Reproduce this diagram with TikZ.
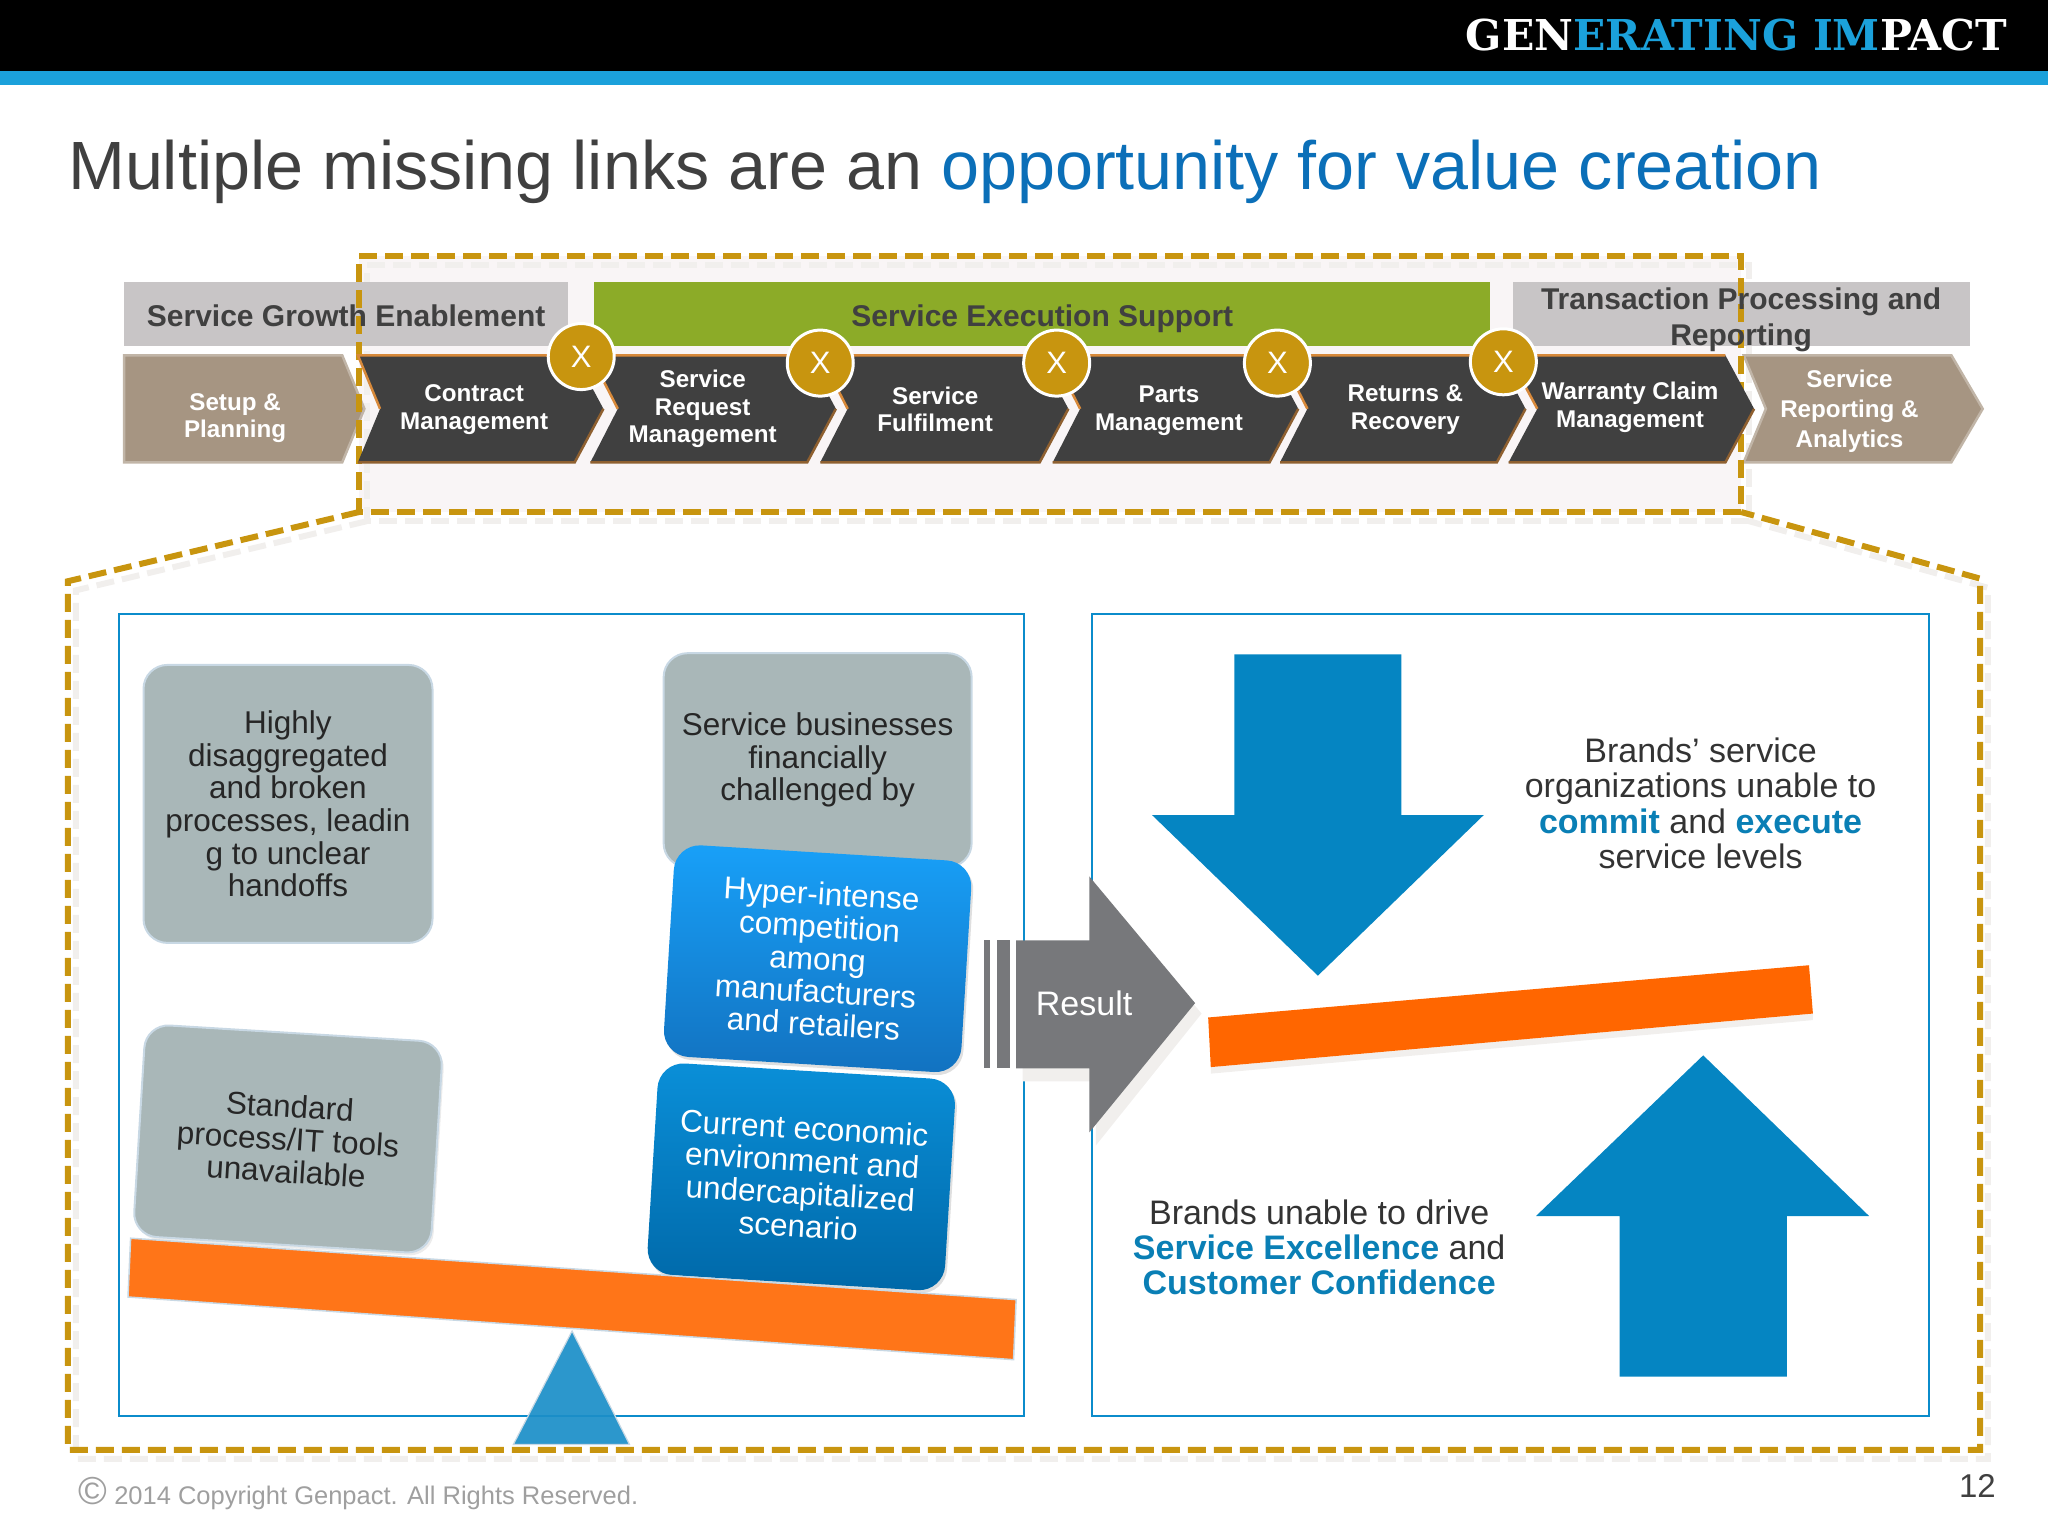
\documentclass[tikz,border=0pt]{standalone}
\usepackage{fontspec}
\setmainfont{Liberation Sans}
\newfontfamily\slabfont{DejaVu Serif}
\usetikzlibrary{shadows}
\definecolor{barblue}{HTML}{1BA1DB}
\definecolor{titlegrey}{HTML}{404040}
\definecolor{titleblue}{HTML}{0B6FB8}
\definecolor{dashgold}{HTML}{C8950F}
\definecolor{dashshade}{HTML}{F1EFED}
\definecolor{bandgrey}{HTML}{C8C5C6}
\definecolor{bandgreen}{HTML}{8CAB28}
\definecolor{chevtan}{HTML}{A69582}
\definecolor{chevdark}{HTML}{404040}
\definecolor{framblue}{HTML}{0B8CCB}
\definecolor{boxgrey}{HTML}{A9B7B8}
\definecolor{boxedge}{HTML}{C8D8E4}
\definecolor{hypertop}{HTML}{18A0F8}
\definecolor{hyperbot}{HTML}{1272C0}
\definecolor{econtop}{HTML}{0A8FD8}
\definecolor{econbot}{HTML}{0068A8}
\definecolor{beamorange}{HTML}{FF7518}
\definecolor{beamright}{HTML}{FF6600}
\definecolor{pivotblue}{HTML}{1C8FC8}
\definecolor{arrowblue}{HTML}{0585C2}
\definecolor{keyblue}{HTML}{0A7FB5}
\definecolor{resultgrey}{HTML}{77787B}
\definecolor{tintbox}{HTML}{F9F5F6}
\begin{document}
\begin{tikzpicture}[x=1.30612pt,y=-1.30612pt,line join=miter,
  dashline/.style={draw=dashgold,line width=6pt,dash pattern=on 18pt off 8pt},
  dashshadow/.style={draw=dashshade,line width=6pt,dash pattern=on 18pt off 8pt,shift={(6,7)}},
  band/.style={fill=bandgrey},
  bandlabel/.style={font=\fontsize{30}{36}\selectfont\bfseries,text=titlegrey,align=center,inner sep=0pt},
  tanchev/.style={fill=chevtan,draw=chevtan!70!white,line width=2.5pt},
  darkchev/.style={fill=chevdark},
  chevtop/.style={draw=orange!55!chevtan,line width=2.5pt},
  chevbot/.style={draw=brown!75!black,line width=2.5pt},
  chevlabel/.style={font=\fontsize{24.2}{27.5}\selectfont\bfseries,text=white,align=center,inner sep=0pt},
  missing/.style={circle,fill=dashgold,draw=white,line width=3pt,minimum size=66pt,inner sep=0pt,text=white,font=\fontsize{31}{31}\selectfont},
  frame/.style={draw=framblue,line width=2.4pt},
  greybox/.style={rounded corners=24pt,fill=boxgrey,draw=boxedge,line width=2pt,align=center,inner sep=0pt,text=black!85,font=\fontsize{31.5}{32.6}\selectfont},
  bluebox/.style={rounded corners=26pt,align=center,inner sep=0pt,text=white,font=\fontsize{31.5}{32.6}\selectfont,
    minimum width=298pt,minimum height=212pt,drop shadow={shadow xshift=2pt,shadow yshift=-3pt,opacity=.25}},
  keytext/.style={font=\fontsize{34}{35.3}\selectfont,text=black!80,align=center,inner sep=0pt},
  bigarrow/.style={fill=arrowblue},
]
\useasboundingbox (0,0) rectangle (1568,1176);
  % Header
  \fill [black] (0,0) rectangle (1568,54);
  \fill [barblue] (0,54) rectangle (1568,65);
  \node [anchor=east,inner sep=0pt,font=\slabfont\bfseries\fontsize{42.5}{42.5}\selectfont] (brand) at (1537,27)
    {\textcolor{white}{GEN}\textcolor{barblue}{ERATING IM}\textcolor{white}{PACT}};
  \node [anchor=base west,inner sep=0pt,font=\fontsize{68.3}{68.3}\selectfont,text=titlegrey] (title) at (52,145)
    {Multiple missing links are an \textcolor{titleblue}{opportunity for value creation}};
  % Dashed box behind the chain
  \fill [tintbox] (275,196) rectangle (1333,392);
  \draw [dashshadow] (275,196) -- (1333,196) -- (1333,392) -- (275,392) -- cycle;
  \draw [dashshadow] (275,392) -- (52,445) -- (52,1110) -- (1516,1110) -- (1516,443) -- (1333,392);
  % Bands
  \fill [band] (95,216) rectangle (435,265);
  \fill [bandgreen] (455,216) rectangle (1141,265);
  \fill [band] (1158,216) rectangle (1508,265);
  % Chevrons: tan
  \draw [tanchev] (95,272) -- (262,272) -- (279,313) -- (262,354) -- (95,354) -- cycle;
  \draw [tanchev] (1335,272) -- (1494,272) -- (1518,313) -- (1494,354) -- (1335,354) -- (1352,313) -- cycle;
  % Dashed lines
  \draw [dashline] (275,196) -- (1333,196) -- (1333,392) -- (275,392) -- cycle;
  \draw [dashline] (275,392) -- (52,445) -- (52,1110) -- (1516,1110) -- (1516,443) -- (1333,392);
  % Chevrons: dark
  \fill [darkchev] (274,272) -- (440,272) -- (462,313) -- (440,354) -- (274,354) -- (291,313) -- cycle;
  \draw [chevtop] (291,313) -- (274,272) -- (440,272);
  \draw [chevbot] (462,313) -- (440,354) -- (274,354);
  \fill [darkchev] (452,272) -- (618,272) -- (640,313) -- (618,354) -- (452,354) -- (473,313) -- cycle;
  \draw [chevtop] (473,313) -- (452,272) -- (618,272);
  \draw [chevbot] (640,313) -- (618,354) -- (452,354);
  \fill [darkchev] (628,272) -- (796,272) -- (818,313) -- (796,354) -- (628,354) -- (649,313) -- cycle;
  \draw [chevtop] (649,313) -- (628,272) -- (796,272);
  \draw [chevbot] (818,313) -- (796,354) -- (628,354);
  \fill [darkchev] (806,272) -- (972,272) -- (994,313) -- (972,354) -- (806,354) -- (827,313) -- cycle;
  \draw [chevtop] (827,313) -- (806,272) -- (972,272);
  \draw [chevbot] (994,313) -- (972,354) -- (806,354);
  \fill [darkchev] (980,272) -- (1146,272) -- (1168,313) -- (1146,354) -- (980,354) -- (1001,313) -- cycle;
  \draw [chevtop] (1001,313) -- (980,272) -- (1146,272);
  \draw [chevbot] (1168,313) -- (1146,354) -- (980,354);
  \fill [darkchev] (1155,272) -- (1321,272) -- (1343,313) -- (1321,354) -- (1155,354) -- (1177,313) -- cycle;
  \draw [chevtop] (1177,313) -- (1155,272) -- (1321,272);
  \draw [chevbot] (1343,313) -- (1321,354) -- (1155,354);
  % Band labels
  \node [bandlabel] (growth) at (265,242) {Service Growth Enablement};
  \node [bandlabel] (execution) at (798,244) {Service Execution Support};
  \node [bandlabel] (transaction) at (1333,245) {Transaction Processing and\\Reporting};
  % Chevron labels
  \node [chevlabel] (setup) at (180,320) {Setup \&\\Planning};
  \node [chevlabel] (contract) at (363,313.5) {Contract\\Management};
  \node [chevlabel] (request) at (538,313) {Service\\Request\\Management};
  \node [chevlabel] (fulfilment) at (716,313.5) {Service\\Fulfilment};
  \node [chevlabel] (parts) at (895,314.5) {Parts\\Management};
  \node [chevlabel] (returns) at (1076,313.5) {Returns \&\\Recovery};
  \node [chevlabel] (warranty) at (1248,312) {Warranty Claim\\Management};
  \node [chevlabel] (reporting) at (1416,315) {Service\\[2.5pt]Reporting \&\\[2.5pt]Analytics};
  % Missing links
  \node [missing] (x1) at (445,273) {X};
  \node [missing] (x2) at (628,278) {X};
  \node [missing] (x3) at (809,278) {X};
  \node [missing] (x4) at (978,278) {X};
  \node [missing] (x5) at (1151,277) {X};
  % Panels
  \draw [frame] (91,470) rectangle (784,1084);
  \draw [frame] (836,470) rectangle (1477,1084);
  % Left panel
  \node [greybox,minimum width=289pt,minimum height=278pt] (broken) at (220.5,615.5)
    {Highly\\disaggregated\\and broken\\processes, leadin\\g to unclear\\handoffs};
  \node [greybox,minimum width=298pt,minimum height=212pt,rotate=-3.5,drop shadow={shadow xshift=2pt,shadow yshift=-3pt,opacity=.15}] (tools) at (220.5,872)
    {Standard\\process/IT tools\\unavailable};
  \node [greybox,minimum width=308pt,minimum height=214pt] (financial) at (626,582)
    {Service businesses\\financially\\challenged by};
  \node [bluebox,rotate=-3.5,top color=hypertop,bottom color=hyperbot] (hyper) at (626,734)
    {Hyper-intense\\competition\\among\\manufacturers\\and retailers};
  \node [bluebox,rotate=-3.5,top color=econtop,bottom color=econbot] (economic) at (613.5,901)
    {Current economic\\environment and\\undercapitalized\\scenario};
  \draw [fill=beamorange,draw=boxedge,line width=1.5pt] (100,948) -- (778,995) -- (776,1041) -- (98,993) -- cycle;
  \draw [fill=pivotblue,draw=boxedge,line width=1.2pt,fill opacity=.93] (438,1019) -- (482,1106) -- (393,1106) -- cycle;
  % Result arrow
  \fill [dashshade] (783,730) -- (839,730) -- (839,681) -- (920,776) -- (839,877) -- (839,828) -- (783,828) -- cycle;
  \fill [resultgrey] (778,720) -- (834,720) -- (834,671) -- (915,768) -- (834,867) -- (834,818) -- (778,818) -- cycle;
  \fill [resultgrey] (753,720) rectangle (758,818);
  \fill [resultgrey] (763,720) rectangle (773,818);
  \node [inner sep=0pt,text=white,font=\fontsize{34}{34}\selectfont] (result) at (830,768) {Result};
  % Right panel
  \fill [bigarrow] (945,501) -- (1073,501) -- (1073,624) -- (1136,624) -- (1009,747) -- (882,624) -- (945,624) -- cycle;
  \fill [bigarrow] (1240,1054) -- (1368,1054) -- (1368,931) -- (1431,931) -- (1304,808) -- (1176,931) -- (1240,931) -- cycle;
  \fill [dashshade] (927,822) -- (1388,781) -- (1388,776) -- (927,817) -- cycle;
  \fill [beamright] (925,779) -- (1385,739) -- (1388,776) -- (927,817) -- cycle;
  \node [keytext] (unable) at (1302,615) {Brands’ service\\organizations unable to\\\textcolor{keyblue}{\bfseries commit} and \textcolor{keyblue}{\bfseries execute}\\service levels};
  \node [keytext] (drive) at (1010,955) {Brands unable to drive\\\textcolor{keyblue}{\bfseries Service Excellence} and\\\textcolor{keyblue}{\bfseries Customer Confidence}};
  % Footer
  \node [anchor=base west,inner sep=0pt,text=gray!75,font=\fontsize{25.5}{25.5}\selectfont] (copyright) at (60,1152)
    {{\fontsize{39}{39}\selectfont ©}\hspace{7pt}2014 Copyright Genpact. All Rights Reserved.};
  \node [inner sep=0pt,text=titlegrey,font=\fontsize{33}{33}\selectfont] (page) at (1514,1138) {12};
\end{tikzpicture}
\end{document}
